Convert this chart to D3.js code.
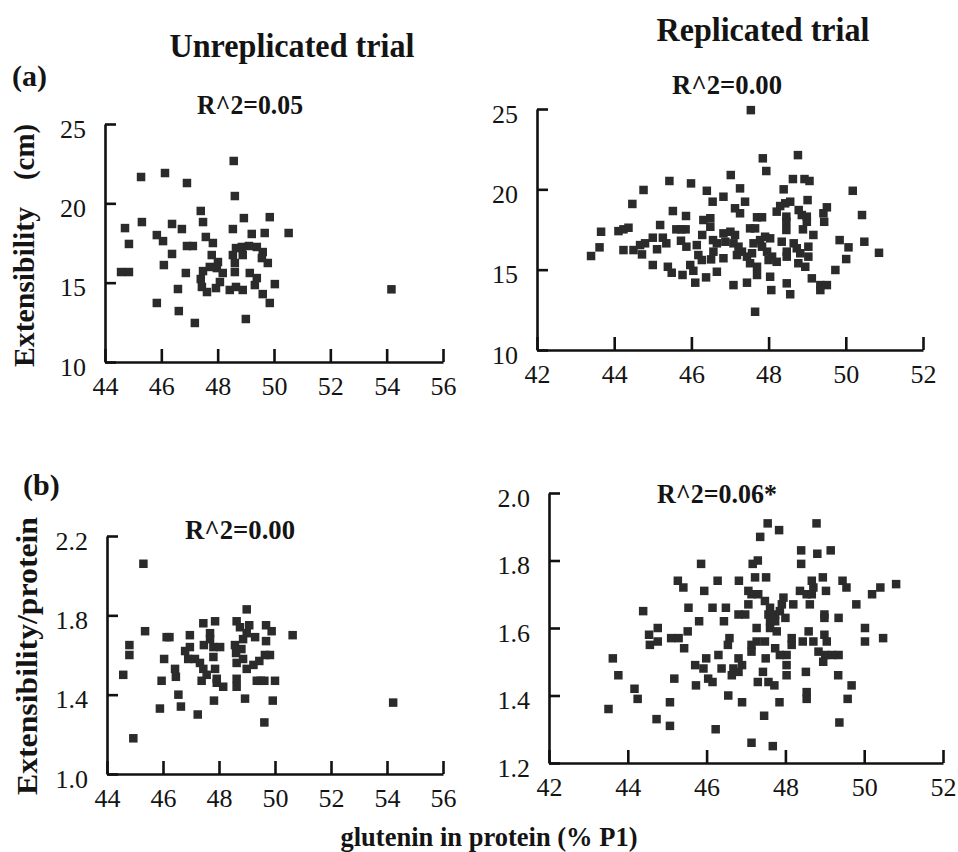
<!DOCTYPE html>
<html>
<head>
<meta charset="utf-8">
<script src="https://cdn.jsdelivr.net/npm/d3@7"></script>
<style>
  body { margin: 0; background: #fff; }
  svg { display: block; }
  text { font-family: "Liberation Serif", "Times New Roman", serif; fill: #141414; }
</style>
</head>
<body>
<script>
// Extensibility (cm) vs glutenin in protein (% P1), unreplicated trial
const unrepExt = [
  [48.57,22.67],[45.28,21.66],[46.13,21.91],[46.91,21.28],[48.61,20.46],[45.31,18.82],
  [47.40,19.52],[47.48,18.82],[48.93,19.07],[49.85,19.13],[50.52,18.13],[44.71,18.44],
  [46.38,18.70],[46.73,18.38],[48.54,18.38],[49.21,18.07],[49.67,18.13],[45.84,18.00],
  [46.06,17.62],[44.85,17.44],[46.91,17.31],[47.12,17.31],[47.58,17.88],[47.83,17.50],
  [47.79,16.74],[48.01,16.30],[46.38,16.81],[46.09,16.11],[46.87,15.61],[44.57,15.67],
  [44.85,15.67],[47.48,15.73],[47.72,15.99],[47.97,15.92],[48.18,15.61],[47.40,15.23],
  [47.44,14.73],[47.62,14.41],[47.94,14.66],[48.08,15.04],[46.59,14.60],[45.84,13.72],
  [46.62,13.21],[47.19,12.46],[49.00,12.71],[48.54,16.74],[48.65,17.18],[48.86,17.25],
  [49.11,17.31],[49.39,17.25],[49.60,16.93],[49.57,16.55],[49.78,16.24],[48.89,16.74],
  [48.61,16.24],[48.61,15.67],[49.14,15.61],[49.39,15.29],[49.32,14.85],[50.03,14.91],
  [48.43,14.54],[48.65,14.73],[48.89,14.54],[49.60,14.28],[49.85,13.72],[54.17,14.58]
];

// Extensibility (cm), replicated trial
const repExt = [
  [45.43,20.52],[45.99,20.37],[44.76,19.96],[46.40,19.91],[46.55,19.23],[44.47,19.09],
  [45.52,18.65],[45.86,18.34],[43.66,17.36],[44.11,17.40],[44.24,17.51],[44.37,17.61],
  [45.19,17.78],[45.61,17.51],[45.74,17.51],[45.85,17.51],[46.31,18.09],[46.49,18.20],
  [46.49,17.67],[46.28,17.16],[43.62,16.39],[43.40,15.85],[44.24,16.22],[44.50,16.22],
  [44.67,16.53],[44.80,16.64],[44.72,15.95],[45.00,16.99],[45.11,16.27],[45.26,16.99],
  [45.35,16.64],[45.73,16.80],[45.87,16.43],[46.14,16.53],[46.56,16.84],[46.66,16.64],
  [46.18,15.91],[46.27,15.60],[46.51,15.64],[45.00,15.29],[45.39,15.18],[45.49,14.81],
  [45.77,14.67],[45.97,15.29],[46.05,14.93],[46.10,14.19],[46.38,14.52],[46.66,14.87],
  [47.54,24.93],[47.85,21.93],[48.76,22.13],[47.94,21.14],[47.02,20.89],[48.63,20.64],
  [48.93,20.64],[49.06,20.52],[50.18,19.91],[47.26,20.06],[46.83,19.54],[48.39,20.00],
  [49.01,19.33],[47.39,19.23],[47.13,18.82],[47.26,18.51],[48.30,18.96],[48.43,19.13],
  [48.56,19.23],[48.21,18.61],[48.46,18.30],[48.46,17.98],[47.70,18.26],[47.83,18.26],
  [48.78,18.71],[48.86,18.40],[48.99,18.30],[48.99,17.98],[49.51,18.88],[49.42,18.51],
  [49.44,17.98],[50.42,18.40],[47.52,17.57],[47.65,17.57],[48.46,17.47],[48.89,17.51],
  [49.16,17.16],[49.84,16.84],[50.07,16.39],[50.48,16.74],[50.86,16.05],[50.01,15.66],
  [49.73,14.98],[46.83,17.26],[47.01,17.36],[47.13,17.16],[46.88,16.74],[47.09,16.64],
  [47.22,16.43],[47.31,16.12],[47.18,15.91],[47.44,15.81],[47.57,16.02],[47.61,16.64],
  [47.78,16.84],[47.91,17.05],[48.04,16.95],[47.83,16.43],[47.96,16.12],[48.09,15.81],
  [48.21,15.49],[48.00,15.60],[47.52,15.40],[47.70,15.18],[47.70,14.67],[48.04,14.56],
  [48.34,16.74],[48.47,16.12],[48.65,16.64],[48.73,16.33],[48.82,16.02],[49.03,16.43],
  [49.03,15.81],[48.77,15.40],[48.95,15.18],[48.47,15.81],[47.09,14.04],[47.44,14.19],
  [48.07,13.73],[48.47,14.15],[48.56,13.47],[49.12,14.46],[49.34,14.04],[49.34,13.73],
  [49.51,14.04],[47.65,12.38],[46.83,15.71],[46.57,16.12]
];

// Extensibility/protein, unreplicated trial
const unrepRatio = [
  [45.30,2.06],[45.36,1.72],[44.80,1.65],[44.80,1.60],[44.58,1.50],[44.94,1.18],
  [46.13,1.69],[46.23,1.69],[46.04,1.58],[45.95,1.47],[46.43,1.53],[46.46,1.49],
  [46.55,1.40],[45.89,1.33],[46.64,1.34],[47.24,1.30],[47.82,1.37],[48.93,1.38],
  [49.62,1.26],[49.92,1.37],[48.99,1.83],[50.63,1.70],[49.62,1.47],[49.49,1.47],
  [49.35,1.47],[50.00,1.47],[46.96,1.70],[47.44,1.76],[47.86,1.77],[48.63,1.77],
  [48.75,1.74],[49.08,1.75],[49.68,1.75],[49.88,1.72],[49.29,1.69],[49.68,1.67],
  [46.96,1.64],[46.79,1.62],[46.90,1.58],[47.14,1.58],[47.32,1.56],[47.44,1.53],
  [47.56,1.50],[47.38,1.47],[47.68,1.71],[47.68,1.68],[47.80,1.64],[47.80,1.59],
  [48.04,1.64],[47.86,1.53],[47.92,1.48],[47.92,1.46],[48.15,1.44],[47.46,1.65],
  [48.57,1.65],[48.61,1.61],[48.63,1.56],[48.63,1.48],[48.63,1.44],[48.80,1.63],
  [48.86,1.68],[48.99,1.71],[48.86,1.58],[48.99,1.53],[49.23,1.55],[49.44,1.57],
  [49.64,1.60],[49.82,1.60],[54.22,1.36]
];

// Extensibility/protein, replicated trial
const repRatio = [
  [45.86,1.79],[45.27,1.74],[45.41,1.72],[46.28,1.74],[45.94,1.71],[44.39,1.65],
  [45.54,1.66],[46.15,1.66],[46.49,1.66],[45.81,1.62],[46.44,1.62],[44.76,1.60],
  [44.54,1.58],[44.76,1.56],[44.56,1.55],[45.10,1.57],[45.29,1.57],[45.52,1.59],
  [45.43,1.54],[46.58,1.57],[46.54,1.55],[43.62,1.51],[43.76,1.46],[44.17,1.42],
  [44.25,1.39],[43.51,1.36],[44.73,1.33],[45.07,1.38],[45.07,1.31],[45.18,1.45],
  [45.73,1.43],[45.71,1.49],[45.92,1.48],[45.99,1.51],[46.30,1.52],[46.38,1.48],
  [46.04,1.45],[46.15,1.44],[46.55,1.40],[46.23,1.30],[46.68,1.48],[46.64,1.46],
  [47.55,1.91],[47.36,1.87],[47.84,1.89],[48.79,1.91],[48.40,1.83],[48.81,1.82],
  [49.15,1.83],[48.40,1.79],[47.30,1.80],[47.17,1.79],[46.82,1.74],[47.23,1.75],
  [47.51,1.75],[47.06,1.71],[47.14,1.70],[47.31,1.70],[47.48,1.68],[47.61,1.66],
  [47.74,1.64],[47.86,1.65],[47.95,1.69],[47.91,1.67],[47.57,1.64],[47.74,1.62],
  [48.00,1.63],[47.06,1.67],[46.81,1.64],[46.98,1.64],[47.27,1.60],[47.61,1.62],
  [47.61,1.60],[47.78,1.59],[48.20,1.67],[48.37,1.71],[48.54,1.70],[48.67,1.70],
  [48.71,1.72],[48.67,1.74],[48.95,1.75],[49.03,1.71],[48.62,1.67],[48.99,1.64],
  [48.99,1.63],[49.35,1.63],[49.45,1.74],[49.55,1.72],[49.80,1.67],[50.20,1.70],
  [50.41,1.72],[50.81,1.73],[50.02,1.60],[50.02,1.56],[50.48,1.57],[48.59,1.59],
  [48.44,1.56],[48.71,1.56],[48.99,1.58],[49.05,1.56],[48.16,1.57],[48.16,1.55],
  [48.03,1.52],[47.86,1.52],[47.74,1.54],[47.48,1.56],[47.27,1.56],[47.14,1.55],
  [47.14,1.53],[48.84,1.53],[49.01,1.52],[49.18,1.52],[49.35,1.52],[48.96,1.50],
  [47.50,1.51],[48.03,1.49],[48.03,1.46],[48.52,1.47],[49.34,1.46],[49.68,1.43],
  [46.81,1.51],[46.90,1.49],[46.81,1.47],[47.43,1.47],[47.30,1.44],[47.57,1.44],
  [47.72,1.43],[46.90,1.38],[47.85,1.38],[48.54,1.39],[48.54,1.41],[49.58,1.39],
  [47.46,1.34],[49.37,1.32],[47.14,1.26],[47.68,1.25]
];

// Axis ticks
const xTicksUnrep = [44, 46, 48, 50, 52, 54, 56];
const xTicksRep = [42, 44, 46, 48, 50, 52];
const yTicksExt = [10, 15, 20, 25];
const yTicksUnrepRatio = [1.0, 1.4, 1.8, 2.2];
const yTicksRepRatio = [1.2, 1.4, 1.6, 1.8, 2.0];

// Labels
const columnTitles = ["Unreplicated trial", "Replicated trial"];
const rowTags = ["(a)", "(b)"];
const r2Labels = ["R^2=0.05", "R^2=0.00", "R^2=0.00", "R^2=0.06*"];
const yTitleExt = ["Extensibility", "(cm)"];
const yTitleRatio = "Extensibility/protein";
const xTitle = "glutenin in protein (% P1)";

const W = 958, H = 852;
const svg = d3.select("body").append("svg").attr("width", W).attr("height", H);

const panels = [
  { data: unrepExt, xt: xTicksUnrep, yt: yTicksExt, x0: 105, x1: 443, y0: 362, y1: 124,
    fmt: d3.format("d"), r2: r2Labels[0], r2x: 250, r2y: 114, r2w: 106 },
  { data: repExt, xt: xTicksRep, yt: yTicksExt, x0: 537, x1: 923, y0: 350, y1: 109,
    fmt: d3.format("d"), r2: r2Labels[1], r2x: 727, r2y: 94, r2w: 110 },
  { data: unrepRatio, xt: xTicksUnrep, yt: yTicksUnrepRatio, x0: 107, x1: 443, y0: 774, y1: 536,
    fmt: d3.format(".1f"), r2: r2Labels[2], r2x: 240, r2y: 539, r2w: 110 },
  { data: repRatio, xt: xTicksRep, yt: yTicksRepRatio, x0: 549, x1: 943, y0: 763, y1: 493,
    fmt: d3.format(".1f"), r2: r2Labels[3], r2x: 717, r2y: 503, r2w: 120 }
];

const MARK = 8.5;

panels.forEach(p => {
  const x = d3.scaleLinear().domain(d3.extent(p.xt)).range([p.x0, p.x1]);
  const y = d3.scaleLinear().domain(d3.extent(p.yt)).range([p.y0, p.y1]);
  const g = svg.append("g");

  // points
  g.append("g").selectAll("rect").data(p.data).join("rect")
    .attr("x", d => x(d[0]) - MARK / 2)
    .attr("y", d => y(d[1]) - MARK / 2)
    .attr("width", MARK).attr("height", MARK)
    .attr("fill", "#2b2b2b");

  // x axis with ticks pointing up into the plot
  const gx = g.append("g").attr("transform", `translate(0,${p.y0})`)
    .call(d3.axisBottom(x).tickValues(p.xt).tickFormat(d3.format("d"))
      .tickSizeInner(-13).tickSizeOuter(0).tickPadding(15));
  // y axis with ticks pointing right into the plot
  const gy = g.append("g").attr("transform", `translate(${p.x0},0)`)
    .call(d3.axisLeft(y).tickValues(p.yt).tickFormat(p.fmt)
      .tickSizeInner(-11).tickSizeOuter(0).tickPadding(19));

  [gx, gy].forEach(a => {
    a.selectAll("path.domain").attr("stroke", "#111").attr("stroke-width", 2.6);
    a.selectAll(".tick line").attr("stroke", "#111").attr("stroke-width", 2.6);
    a.selectAll(".tick text").attr("font-size", 26).attr("fill", "#141414")
      .style("font-family", '"Liberation Serif", serif');
  });
  gy.selectAll(".tick text").attr("dy", "0.5em");

  // R^2 annotation
  svg.append("text").attr("x", p.r2x).attr("y", p.r2y)
    .attr("text-anchor", "middle").attr("font-size", 27).attr("font-weight", "bold")
    .attr("textLength", p.r2w).attr("lengthAdjust", "spacingAndGlyphs")
    .text(p.r2);
});

// column titles
svg.append("text").attr("x", 292).attr("y", 57).attr("text-anchor", "middle")
  .attr("font-size", 34).attr("font-weight", "bold")
  .attr("textLength", 245).attr("lengthAdjust", "spacingAndGlyphs").text(columnTitles[0]);
svg.append("text").attr("x", 763).attr("y", 41).attr("text-anchor", "middle")
  .attr("font-size", 34).attr("font-weight", "bold")
  .attr("textLength", 213).attr("lengthAdjust", "spacingAndGlyphs").text(columnTitles[1]);

// row tags
svg.append("text").attr("x", 12).attr("y", 86).attr("font-size", 30).attr("font-weight", "bold").text(rowTags[0]);
svg.append("text").attr("x", 23).attr("y", 495).attr("font-size", 30).attr("font-weight", "bold").text(rowTags[1]);

// y axis titles
svg.append("text").attr("transform", "translate(34,287) rotate(-90)").attr("text-anchor", "middle")
  .attr("font-size", 29).attr("font-weight", "bold")
  .attr("textLength", 160).attr("lengthAdjust", "spacingAndGlyphs").text(yTitleExt[0]);
svg.append("text").attr("transform", "translate(34,152) rotate(-90)").attr("text-anchor", "middle")
  .attr("font-size", 29).attr("font-weight", "bold")
  .attr("textLength", 56).attr("lengthAdjust", "spacingAndGlyphs").text(yTitleExt[1]);
svg.append("text").attr("transform", "translate(37,656) rotate(-90)").attr("text-anchor", "middle")
  .attr("font-size", 30).attr("font-weight", "bold")
  .attr("textLength", 278).attr("lengthAdjust", "spacingAndGlyphs").text(yTitleRatio);

// shared x axis title
svg.append("text").attr("x", 489).attr("y", 846).attr("text-anchor", "middle")
  .attr("font-size", 27).attr("font-weight", "bold")
  .attr("textLength", 297).attr("lengthAdjust", "spacingAndGlyphs").text(xTitle);
</script>
</body>
</html>
